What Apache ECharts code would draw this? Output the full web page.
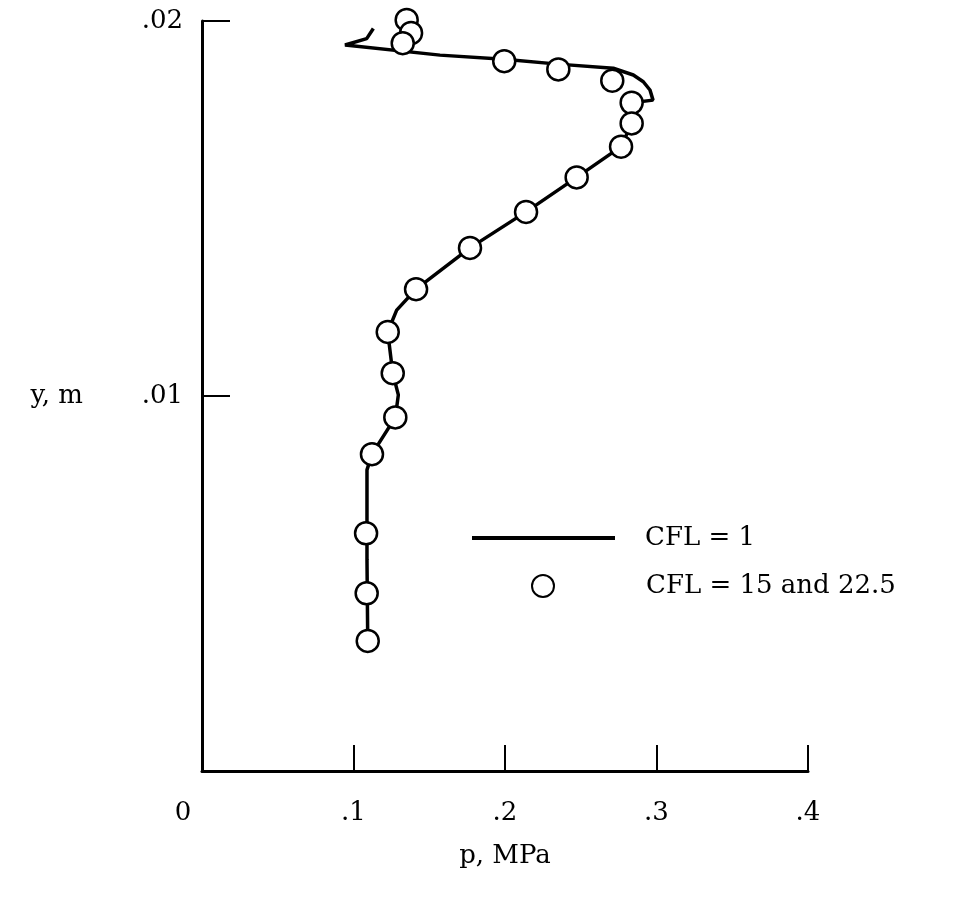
<!DOCTYPE html>
<html>
<head>
<meta charset="utf-8">
<script src="https://cdn.jsdelivr.net/npm/echarts@6/dist/echarts.min.js"></script>
<style>html,body{margin:0;padding:0;background:#fff}#c{width:965px;height:910px}</style>
</head>
<body>
<div id="c"></div>
<script>
// CFL = 1 curve: pressure (MPa) and height (m)
const lineP = [0.1094,0.1089,0.1089,0.1122,0.1276,0.1296,0.1259,0.1226,0.1285,0.1413,0.1769,0.2139,0.2473,0.2766,0.2836,0.2836,0.2977,0.2957,0.2913,0.2847,0.2715,0.2350,0.1993,0.1571,0.0944,0.1087,0.1131];
const lineY = [0.00347,0.00563,0.00803,0.00845,0.00943,0.01003,0.01061,0.01171,0.01229,0.01285,0.01395,0.01491,0.01583,0.01665,0.01727,0.01782,0.01789,0.01816,0.01838,0.01856,0.01874,0.01885,0.01898,0.01909,0.01936,0.01953,0.01980];
// CFL = 15 and 22.5 points
const ptP = [0.1351,0.1380,0.1325,0.1995,0.2352,0.2708,0.2836,0.2836,0.2766,0.2473,0.2139,0.1769,0.1413,0.1226,0.1259,0.1276,0.1122,0.1083,0.1087,0.1094];
const ptY = [0.02003,0.01968,0.01941,0.01893,0.01871,0.01841,0.01782,0.01727,0.01665,0.01583,0.01491,0.01395,0.01285,0.01171,0.01061,0.00943,0.00845,0.00634,0.00474,0.00347];
const xTickLabels = {0:'0',0.1:'.1',0.2:'.2',0.3:'.3',0.4:'.4'};
const yTickLabels = {0.01:'.01',0.02:'.02'};
const seriesNames = ['CFL = 1','CFL = 15 and 22.5'];

const font = 'DejaVu Serif';
const fs = 26;
const chart = echarts.init(document.getElementById('c'));
chart.setOption({
  backgroundColor:'#fff',
  animation:false,
  grid:{left:202,right:157,top:21,bottom:139},
  xAxis:{
    type:'value',min:0,max:0.4,interval:0.1,
    name:'p, MPa',nameLocation:'middle',nameGap:72,
    nameTextStyle:{fontFamily:font,fontSize:fs,color:'#000'},
    axisLine:{lineStyle:{color:'#000',width:3}},
    axisTick:{inside:true,length:26,lineStyle:{color:'#000',width:2}},
    axisLabel:{margin:29,fontFamily:font,fontSize:fs,color:'#000',
      rich:{z:{fontFamily:font,fontSize:fs,color:'#000',padding:[0,38,0,0]}},
      formatter:v=>{const k=Math.round(v*10)/10; return k===0?'{z|0}':(xTickLabels[k] ?? '');}},
    splitLine:{show:false}
  },
  yAxis:{
    type:'value',min:0,max:0.02,interval:0.01,
    name:'y, m',nameLocation:'middle',nameGap:119,nameRotate:0,
    nameTextStyle:{fontFamily:font,fontSize:fs,color:'#000',padding:[8,0,0,0]},
    axisLine:{lineStyle:{color:'#000',width:3}},
    axisTick:{inside:true,length:28,lineStyle:{color:'#000',width:2}},
    axisLabel:{margin:19,fontFamily:font,fontSize:fs,color:'#000',padding:[8,0,0,0],
      formatter:v=>yTickLabels[Math.round(v*100)/100] ?? ''},
    splitLine:{show:false}
  },
  legend:[
    {data:[{name:seriesNames[0],icon:'rect'}],left:467,top:520,itemWidth:143,itemHeight:4,
     textStyle:{fontFamily:font,fontSize:fs,color:'#000',padding:[0,0,0,25]}},
    {data:[seriesNames[1]],left:526,top:568,itemWidth:22,itemHeight:22,
     textStyle:{fontFamily:font,fontSize:fs,color:'#000',padding:[0,0,0,87]}}
  ],
  series:[
    {name:seriesNames[0],type:'line',data:lineP.map((p,i)=>[p,lineY[i]]),
     symbol:'none',lineStyle:{color:'#000',width:3.5},itemStyle:{color:'#000'},z:2,clip:false},
    {name:seriesNames[1],type:'scatter',data:ptP.map((p,i)=>[p,ptY[i]]),
     symbol:'circle',symbolSize:22,
     itemStyle:{color:'#fff',borderColor:'#000',borderWidth:2.5,opacity:1},z:3,clip:false}
  ]
});
</script>
</body>
</html>
